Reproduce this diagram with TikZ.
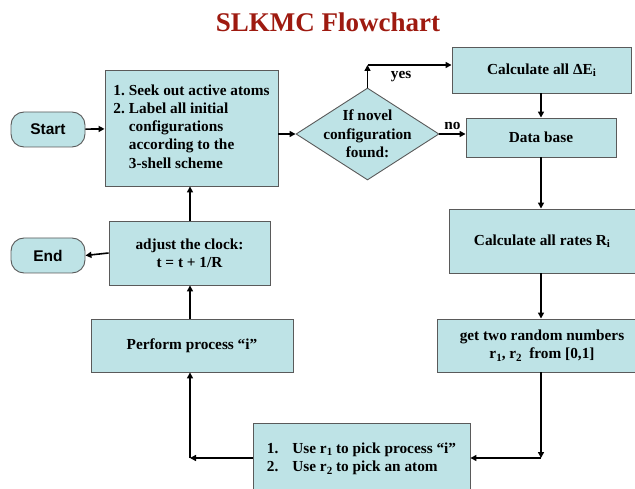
\documentclass[tikz,border=0pt]{standalone}
\usepackage{fontspec}
\setmainfont{Liberation Serif}
\newfontfamily\arialfont{Liberation Sans}
\usetikzlibrary{arrows.meta,shapes.geometric}
\definecolor{boxfill}{HTML}{BEE3E6}
\definecolor{boxline}{HTML}{5A5A5A}
\definecolor{titlered}{HTML}{9E1A10}
\newcommand\lowsub[1]{\raisebox{-0.35ex}{\fontsize{11}{11}\selectfont #1}}
\tikzset{
  boxfont/.style={font=\fontsize{15.3}{18.3}\selectfont\bfseries},
  stepbox/.style={draw=boxline, fill=boxfill, line width=0.9pt, inner sep=2pt,
    align=center, boxfont},
  terminal/.style={stepbox, rounded corners=13pt, minimum width=74pt, minimum height=35pt,
    font=\fontsize{15.5}{18}\selectfont\arialfont\bfseries},
  decision/.style={draw=boxline, fill=boxfill, line width=0.9pt, diamond, inner sep=0pt,
    minimum width=143pt, minimum height=92pt},
  arr/.style={line width=1.6pt, -{Triangle[length=6pt,width=6pt]}},
}
\begin{document}
\begin{tikzpicture}[x=1pt, y=-1pt]
\useasboundingbox (0,0) rectangle (635,489);
% Titre
\node[text=titlered, font=\fontsize{27}{32}\selectfont\bfseries] (title) at (328,22) {SLKMC Flowchart};
% Colonne gauche
\node[terminal] (start) at (48,129.5) {Start};
\node[stepbox, minimum width=173pt, minimum height=116pt] (seek) at (191.5,128)
  {\begin{tabular}{@{}l@{\hspace{4pt}}l@{}}
   1.&Seek out active atoms\\
   2.&Label all initial\\
     &configurations\\
     &according to the\\
     &3-shell scheme
   \end{tabular}};
\node[terminal] (end) at (48,255.5) {End};
\node[stepbox, minimum width=161pt, minimum height=64pt] (clock) at (189.5,253)
  {adjust the clock:\\t = t + 1/R};
\node[stepbox, minimum width=202pt, minimum height=53pt] (perform) at (192,345.5)
  {Perform process “i”};
% Test
\node[decision, label={[align=center, boxfont]center:If novel\\configuration\\found:}] (novel) at (367.5,134) {};
% Colonne droite
\node[stepbox, minimum width=179pt, minimum height=46pt] (energy) at (541.5,70)
  {Calculate all ΔE\lowsub{i}};
\node[stepbox, minimum width=150pt, minimum height=39pt] (database) at (541,137.5)
  {Data base};
\node[stepbox, minimum width=186pt, minimum height=64pt] (rates) at (542,241)
  {Calculate all rates R\lowsub{i}};
\node[stepbox, minimum width=210pt, minimum height=53pt] (random) at (542,345.5)
  {get two random numbers\\r\lowsub{1}, r\lowsub{2}~ from [0,1]};
% Choix
\node[stepbox, minimum width=217pt, minimum height=72pt] (pick) at (361.5,459)
  {\begin{tabular}{@{}l@{\hspace{14pt}}l@{}}
   1.&Use r\lowsub{1} to pick process “i”\\
   2.&Use r\lowsub{2} to pick an atom
   \end{tabular}};
% Coins
\coordinate (yescorner) at (367.5,65);
\coordinate (rcorner) at (541,458);
\coordinate (lcorner) at (190,458);
% Fleches
\draw[arr] (start) -- (seek);
\draw[arr] (seek.east |- novel.west) -- (novel.west);
\draw[arr] (novel.north) -- (yescorner);
\draw[arr] (yescorner) -- (yescorner -| energy.west) node[pos=0.4, below=2pt, boxfont] {yes};
\draw[arr] (novel.east) -- (novel.east -| database.west) node[midway, above, boxfont] {no};
\draw[arr] (energy.south -| database) -- (database.north);
\draw[arr] (database.south) -- (database.south |- rates.north);
\draw[arr] (rates.south -| database) -- (database |- random.north);
\draw[arr] (rcorner |- random.south) -- (rcorner);
\draw[arr] (rcorner) -- (rcorner -| pick.east);
\draw[arr] (lcorner -| pick.west) -- (lcorner);
\draw[arr] (lcorner) -- (lcorner |- perform.south);
\draw[arr] (lcorner |- perform.north) -- (lcorner |- clock.south);
\draw[arr] (lcorner |- clock.north) -- (lcorner |- seek.south);
\draw[arr] (clock.west) -- (end.east);
\end{tikzpicture}
\end{document}
